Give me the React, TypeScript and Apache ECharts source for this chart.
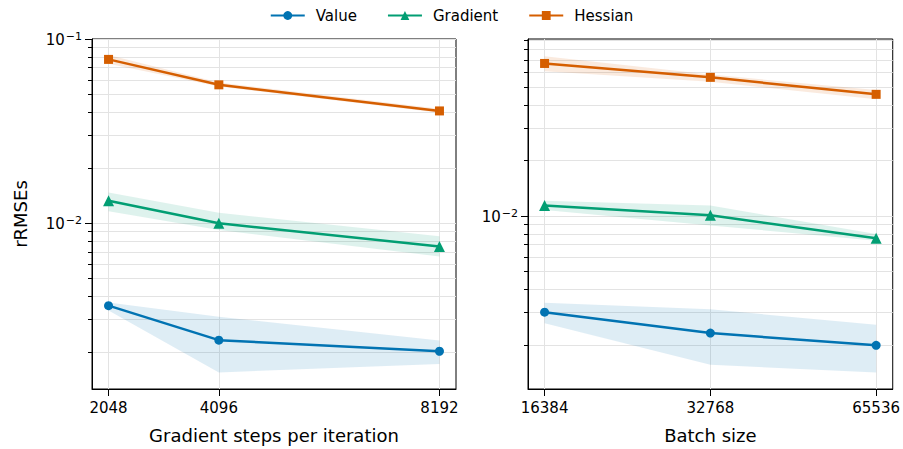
import React, { useEffect, useRef } from "react";
import * as echarts from "echarts";

// ---------- data ----------
const seriesNames = ["Value", "Gradient", "Hessian"];
const colors = ["#0173B2", "#029E73", "#D55E00"];
const symbols = ["circle", "triangle", "rect"];
const symbolSizes = [9, 11, 9];

const leftX = [2048, 4096, 8192];
const rightX = [16384, 32768, 65536];

const leftValue = [0.00357, 0.00232, 0.00202];
const leftValueLo = [0.00336, 0.00155, 0.00172];
const leftValueHi = [0.00371, 0.00311, 0.00231];
const leftGradient = [0.01325, 0.0100, 0.00748];
const leftGradientLo = [0.0116, 0.0092, 0.0066];
const leftGradientHi = [0.0147, 0.0114, 0.0085];
const leftHessian = [0.0775, 0.0564, 0.0407];
const leftHessianLo = [0.0735, 0.0552, 0.0398];
const leftHessianHi = [0.082, 0.058, 0.0418];

const rightValue = [0.00301, 0.00232, 0.00199];
const rightValueLo = [0.00262, 0.00156, 0.00142];
const rightValueHi = [0.00339, 0.00312, 0.00257];
const rightGradient = [0.0114, 0.0101, 0.00757];
const rightGradientLo = [0.0108, 0.0089, 0.00735];
const rightGradientHi = [0.0121, 0.0114, 0.0080];
const rightHessian = [0.0672, 0.0565, 0.0457];
const rightHessianLo = [0.061, 0.0535, 0.043];
const rightHessianHi = [0.0735, 0.0585, 0.0482];

const majorYTicks = [0.001, 0.01, 0.1];
const minorYTicks = [0.002, 0.003, 0.004, 0.005, 0.006, 0.007, 0.008, 0.009, 0.02, 0.03, 0.04, 0.05, 0.06, 0.07, 0.08, 0.09];

const xTitles = ["Gradient steps per iteration", "Batch size"];
const yTitle = "rRMSEs";

const FONT = "DejaVu Sans";
const GRID_COLOR = "#e3e3e3";

function logLabel(v: number): string {
  const e = Math.round(Math.log10(v));
  return "{b|10}{s|" + String(e).replace("-", "\u2212") + "}";
}

function buildOption() {
  const panels = [
    {
      x: leftX,
      xType: "value",
      xMin: 1741,
      xMax: 8499,
      yMin: 0.00126,
      yMax: 0.1,
      mean: [leftValue, leftGradient, leftHessian],
      lo: [leftValueLo, leftGradientLo, leftHessianLo],
      hi: [leftValueHi, leftGradientHi, leftHessianHi],
    },
    {
      x: rightX,
      xType: "log",
      xMin: Math.pow(2, 13.9),
      xMax: Math.pow(2, 16.1),
      yMin: 0.001154,
      yMax: 0.0912,
      mean: [rightValue, rightGradient, rightHessian],
      lo: [rightValueLo, rightGradientLo, rightHessianLo],
      hi: [rightValueHi, rightGradientHi, rightHessianHi],
    },
  ];

  const grid = [
    { left: 92, top: 39, width: 364, height: 350, show: true, borderColor: "#000", borderWidth: 1, backgroundColor: "transparent" },
    { left: 528, top: 39, width: 365, height: 350, show: true, borderColor: "#000", borderWidth: 1, backgroundColor: "transparent" },
  ];

  const xAxis: any[] = [];
  const yAxis: any[] = [];
  const series: any[] = [];

  panels.forEach((p, gi) => {
    const xa: any = {
      type: p.xType,
      gridIndex: gi,
      min: p.xMin,
      max: p.xMax,
      name: xTitles[gi],
      nameLocation: "middle",
      nameGap: 37,
      nameTextStyle: { fontSize: 18, color: "#000", fontFamily: FONT },
      axisLine: { show: true, onZero: false, lineStyle: { color: "#000", width: 1 } },
      axisTick: { show: true, length: 7, lineStyle: { color: "#000", width: 1 }, customValues: p.x },
      axisLabel: {
        customValues: p.x,
        fontSize: 15,
        color: "#000",
        fontFamily: FONT,
        margin: 11,
        formatter: (v: number) => String(Math.round(v)),
      },
      splitLine: { show: true, lineStyle: { color: GRID_COLOR, width: 1 } },
      minorTick: { show: false },
    };
    if (p.xType === "log") xa.logBase = 2;
    xAxis.push(xa);
    // major y axis
    yAxis.push({
      type: "log",
      logBase: 10,
      gridIndex: gi,
      position: "left",
      min: p.yMin,
      max: p.yMax,
      name: gi === 0 ? yTitle : "",
      nameLocation: "middle",
      nameGap: 63,
      nameTextStyle: { fontSize: 18, color: "#000", fontFamily: FONT },
      axisLine: { show: true, onZero: false, lineStyle: { color: "#000", width: 1 } },
      axisTick: { show: true, length: 7, lineStyle: { color: "#000", width: 1 }, customValues: majorYTicks },
      axisLabel: {
        customValues: majorYTicks,
        color: "#000",
        fontFamily: FONT,
        margin: 10,
        formatter: (v: number) => logLabel(v),
        rich: {
          b: { fontSize: 15, color: "#000", fontFamily: FONT, lineHeight: 17, verticalAlign: "bottom" },
          s: { fontSize: 11, color: "#000", fontFamily: FONT, lineHeight: 17, verticalAlign: "top", padding: [0, 0, 6, 1] },
        },
      },
      splitLine: { show: true, lineStyle: { color: GRID_COLOR, width: 1 } },
    });
    // minor y axis
    yAxis.push({
      type: "log",
      logBase: 10,
      gridIndex: gi,
      position: "left",
      offset: 0,
      min: p.yMin,
      max: p.yMax,
      axisLine: { show: false },
      axisTick: { show: true, length: 4, lineStyle: { color: "#000", width: 1 }, customValues: minorYTicks },
      axisLabel: { show: false, customValues: minorYTicks },
      splitLine: { show: true, lineStyle: { color: GRID_COLOR, width: 1 } },
    });

    seriesNames.forEach((name, si) => {
      const xs = p.x;
      const hi = p.hi[si];
      const lo = p.lo[si];
      series.push({
        type: "custom",
        name: name + " band",
        xAxisIndex: gi,
        yAxisIndex: gi * 2,
        silent: true,
        z: 1,
        data: [[xs[0], hi[0]]],
        renderItem: (_params: any, api: any) => {
          const pts: number[][] = [];
          for (let i = 0; i < xs.length; i++) pts.push(api.coord([xs[i], hi[i]]));
          for (let i = xs.length - 1; i >= 0; i--) pts.push(api.coord([xs[i], lo[i]]));
          return { type: "polygon", shape: { points: pts }, style: { fill: colors[si], opacity: 0.13 } };
        },
      });
      series.push({
        type: "line",
        name,
        xAxisIndex: gi,
        yAxisIndex: gi * 2,
        z: 3,
        data: xs.map((x, i) => [x, p.mean[si][i]]),
        symbol: symbols[si],
        symbolSize: symbolSizes[si],
        showSymbol: true,
        lineStyle: { width: 2.5, color: colors[si] },
        itemStyle: { color: colors[si] },
        clip: false,
      });
    });
  });

  return {
    animation: false,
    textStyle: { fontFamily: FONT },
    legend: {
      data: seriesNames,
      top: 3,
      left: "center",
      itemWidth: 34,
      itemHeight: 11,
      itemGap: 30,
      textStyle: { fontSize: 15, color: "#000", fontFamily: FONT, padding: [0, 0, 0, 6] },
    },
    grid,
    xAxis,
    yAxis,
    series,
  };
}

export default function App() {
  const ref = useRef<HTMLDivElement>(null);
  useEffect(() => {
    document.body.style.margin = "0";
    if (!ref.current) return;
    const chart = echarts.init(ref.current, undefined, { renderer: "svg" });
    chart.setOption(buildOption() as any);
    return () => chart.dispose();
  }, []);
  return <div ref={ref} style={{ position: "absolute", left: 0, top: 0, width: 903, height: 449, background: "#fff" }} />;
}
